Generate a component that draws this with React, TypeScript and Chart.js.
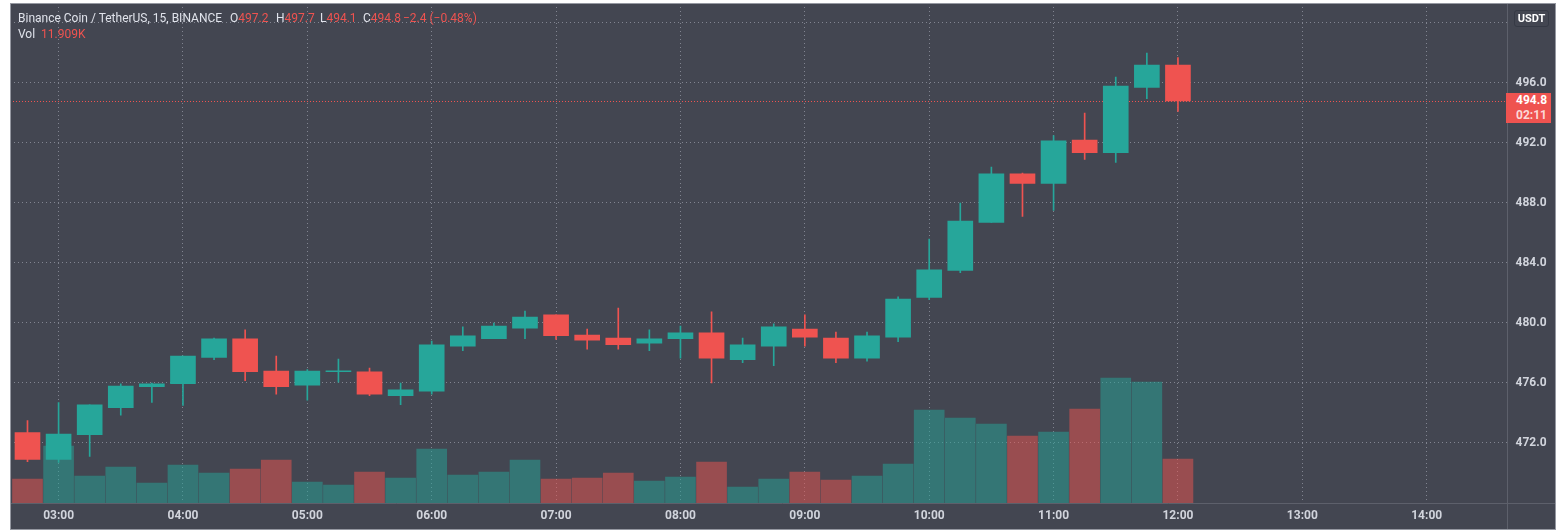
import React, { useEffect, useRef } from "react";
import { Chart, registerables } from "chart.js";

Chart.register(...registerables);

// ---- data (15-minute candles, BNB/USDT) ----
const times = [
  "02:45", "03:00", "03:15", "03:30", "03:45", "04:00", "04:15", "04:30", "04:45",
  "05:00", "05:15", "05:30", "05:45", "06:00", "06:15", "06:30", "06:45",
  "07:00", "07:15", "07:30", "07:45", "08:00", "08:15", "08:30", "08:45",
  "09:00", "09:15", "09:30", "09:45", "10:00", "10:15", "10:30", "10:45",
  "11:00", "11:15", "11:30", "11:45", "12:00",
];
const opens = [
  472.7, 470.9, 472.55, 474.35, 475.75, 475.95, 477.7, 478.95, 476.8,
  475.85, 476.75, 476.75, 475.15, 475.45, 478.45, 478.95, 479.65,
  480.55, 479.2, 479.0, 478.65, 478.95, 479.35, 477.55, 478.45,
  479.6, 479.0, 477.65, 479.05, 481.7, 483.5, 486.7, 489.95,
  489.3, 492.2, 491.35, 495.7, 497.2,
];
const highs = [
  473.5, 474.7, 474.55, 475.95, 476.0, 477.8, 479.0, 479.55, 477.8,
  476.9, 477.6, 477.0, 476.0, 478.8, 479.75, 480.0, 480.8,
  480.55, 479.6, 481.0, 479.55, 479.8, 480.75, 479.0, 479.95,
  480.55, 479.4, 479.4, 481.75, 485.6, 488.0, 490.4, 490.0,
  492.5, 494.0, 496.4, 498.0, 497.7,
];
const lows = [
  470.75, 470.7, 471.1, 473.85, 474.7, 474.5, 477.55, 476.15, 475.25,
  474.85, 476.05, 475.15, 474.55, 475.25, 478.15, 478.95, 478.95,
  478.9, 478.25, 478.25, 478.15, 477.65, 476.0, 477.35, 477.15,
  478.45, 477.35, 477.45, 478.75, 481.55, 483.35, 486.7, 487.1,
  487.5, 490.9, 490.7, 494.95, 494.1,
];
const closes = [
  470.9, 472.6, 474.55, 475.8, 475.95, 477.8, 478.95, 476.75, 475.75,
  476.8, 476.8, 475.25, 475.55, 478.55, 479.15, 479.8, 480.4,
  479.15, 478.85, 478.55, 478.95, 479.35, 477.65, 478.55, 479.75,
  479.05, 477.65, 479.15, 481.6, 483.55, 486.8, 489.95, 489.3,
  492.15, 491.35, 495.8, 497.2, 494.8,
];
// volume in thousands of BNB
const volumes = [
  6.5, 15.43, 7.31, 9.74, 5.41, 10.29, 8.12, 9.2, 11.64,
  5.68, 4.87, 8.39, 6.77, 14.62, 7.58, 8.39, 11.64,
  6.5, 6.77, 8.12, 5.95, 7.04, 11.1, 4.33, 6.5,
  8.39, 6.23, 7.31, 10.56, 25.17, 23.01, 21.38, 18.13,
  19.22, 25.44, 33.83, 32.75, 11.909,
];
const timeTicks = [
  "03:00", "04:00", "05:00", "06:00", "07:00", "08:00", "09:00",
  "10:00", "11:00", "12:00", "13:00", "14:00",
];
const priceTicks = [472, 476, 480, 484, 488, 492, 496, 500];
const lastPrice = 494.8;
const countdown = "02:11";

const UP = "#26a69a";
const DOWN = "#ef5350";
const UP_VOL = "rgba(38,166,154,0.5)";
const DOWN_VOL = "rgba(239,83,80,0.5)";
const BG = "#434651";
const GRID = "rgba(150,153,165,0.75)";
const TEXT = "#d1d4dc";
const FONT = 'Roboto, "Noto Sans", sans-serif';

const toMin = (t: string) => {
  const [h, m] = t.split(":").map(Number);
  return h * 60 + m;
};
const fmtTime = (v: number) => {
  const h = Math.floor(v / 60);
  const m = Math.round(v % 60);
  return String(h).padStart(2, "0") + ":" + String(m).padStart(2, "0");
};

const framePlugin = {
  id: "frame",
  beforeDraw(chart: any) {
    const { ctx, width, height } = chart;
    ctx.save();
    ctx.fillStyle = "#ffffff";
    ctx.fillRect(0, 0, width, height);
    ctx.fillStyle = BG;
    ctx.fillRect(10, 3, 1546, 527);
    ctx.restore();
  },
  beforeDatasetsDraw(chart: any) {
    const { ctx, chartArea, scales } = chart;
    const y = Math.round(scales.y.getPixelForValue(lastPrice)) + 0.5;
    ctx.save();
    ctx.strokeStyle = DOWN;
    ctx.lineWidth = 1;
    ctx.setLineDash([1, 2]);
    ctx.beginPath();
    ctx.moveTo(chartArea.left, y);
    ctx.lineTo(chartArea.right, y);
    ctx.stroke();
    ctx.restore();
  },
  afterDraw(chart: any) {
    const { ctx, chartArea } = chart;
    ctx.save();
    ctx.strokeStyle = "#5d606b";
    ctx.lineWidth = 1;
    ctx.beginPath();
    const xr = Math.round(chartArea.right) + 0.5;
    ctx.moveTo(xr, 3);
    ctx.lineTo(xr, 529);
    const yb = Math.round(chartArea.bottom) + 0.5;
    ctx.moveTo(10, yb);
    ctx.lineTo(1555, yb);
    ctx.stroke();
    ctx.strokeStyle = "#9598a1";
    ctx.strokeRect(10.5, 3.5, 1545, 526);
    ctx.restore();
  },
};

export default function App() {
  const ref = useRef<HTMLCanvasElement | null>(null);

  useEffect(() => {
    if (!ref.current) return;
    const xs = times.map(toMin);
    const isUp = closes.map((c, i) => c >= opens[i]);

    const chart = new Chart(ref.current, {
      type: "bar",
      data: {
        datasets: [
          {
            label: "body",
            data: xs.map((x, i) => ({
              x,
              y: [Math.min(opens[i], closes[i]), Math.max(opens[i], closes[i])],
            })) as any,
            backgroundColor: isUp.map((u) => (u ? UP : DOWN)),
            barThickness: 25,
            minBarLength: 1,
            grouped: false,
            borderWidth: 0,
            yAxisID: "y",
            order: 1,
          },
          {
            label: "wick",
            data: xs.map((x, i) => ({ x, y: [lows[i], highs[i]] })) as any,
            backgroundColor: isUp.map((u) => (u ? UP : DOWN)),
            barThickness: 1,
            grouped: false,
            borderWidth: 0,
            yAxisID: "y",
            order: 2,
          },
          {
            label: "volume",
            data: xs.map((x, i) => ({ x, y: volumes[i] })) as any,
            backgroundColor: isUp.map((u) => (u ? UP_VOL : DOWN_VOL)),
            barThickness: 30,
            grouped: false,
            borderWidth: 0,
            yAxisID: "yVol",
            order: 3,
          },
        ],
      },
      options: {
        animation: false,
        responsive: false,
        devicePixelRatio: 1,
        layout: { padding: { left: 10, top: 3, right: 11, bottom: 2 } },
        plugins: {
          legend: { display: false },
          tooltip: { enabled: false },
        },
        scales: {
          x: {
            type: "linear",
            position: "bottom",
            min: 156.56,
            max: 878.5,
            offset: false,
            afterBuildTicks: (s: any) => {
              s.ticks = timeTicks.map((t) => ({ value: toMin(t) }));
            },
            afterFit: (s: any) => {
              s.height = 26;
              s.paddingLeft = 0;
              s.paddingRight = 0;
            },
            ticks: {
              autoSkip: false,
              maxRotation: 0,
              padding: 6,
              color: TEXT,
              font: { family: FONT, size: 12, weight: "bold" },
              callback: (v: any) => fmtTime(Number(v)),
            },
            grid: {
              color: GRID,
              drawTicks: false,
              offset: false,
            },
            border: { display: false, dash: [1, 3] },
          },
          y: {
            type: "linear",
            position: "right",
            min: 468,
            max: 501.333,
            afterBuildTicks: (s: any) => {
              s.ticks = priceTicks.map((v) => ({ value: v }));
            },
            afterFit: (s: any) => {
              s.width = 48.5;
              s.paddingTop = 0;
              s.paddingBottom = 0;
            },
            ticks: {
              padding: 9,
              color: TEXT,
              font: { family: FONT, size: 12, weight: "bold" },
              callback: (v: any) => (Number(v) >= 500 ? "" : Number(v).toFixed(1)),
            },
            grid: { color: GRID, drawTicks: false },
            border: { display: false, dash: [1, 3] },
          },
          yVol: {
            type: "linear",
            display: false,
            min: 0,
            max: 135.33,
          },
        },
      } as any,
      plugins: [framePlugin],
    });
    return () => chart.destroy();
  }, []);

  const last = closes.length - 1;
  const chg = closes[last] - opens[last];
  const chgPct = (chg / opens[last]) * 100;

  const legendBase: React.CSSProperties = {
    position: "absolute",
    fontFamily: FONT,
    fontSize: 12,
    lineHeight: "14px",
    whiteSpace: "nowrap",
  };

  return (
    <div style={{ position: "fixed", left: 0, top: 0, width: 1566, height: 531, background: "#fff" }}>
      <canvas ref={ref} width={1566} height={531} style={{ width: 1566, height: 531, display: "block" }} />
      <div style={{ ...legendBase, left: 18, top: 10.5, color: "#e0e3eb" }}>Binance Coin / TetherUS, 15, BINANCE</div>
      <div style={{ ...legendBase, left: 230, top: 10.5, color: "#e0e3eb" }}>
        O<span style={{ color: DOWN }}>{opens[last].toFixed(1)}</span>
      </div>
      <div style={{ ...legendBase, left: 276, top: 10.5, color: "#e0e3eb" }}>
        H<span style={{ color: DOWN }}>{highs[last].toFixed(1)}</span>
      </div>
      <div style={{ ...legendBase, left: 320, top: 10.5, color: "#e0e3eb" }}>
        L<span style={{ color: DOWN }}>{lows[last].toFixed(1)}</span>
      </div>
      <div style={{ ...legendBase, left: 363, top: 10.5, color: "#e0e3eb" }}>
        C<span style={{ color: DOWN }}>{closes[last].toFixed(1)}</span>
      </div>
      <div style={{ ...legendBase, left: 403, top: 10.5, color: DOWN }}>
        {"\u2212" + Math.abs(chg).toFixed(1) + " (\u2212" + Math.abs(chgPct).toFixed(2) + "%)"}
      </div>
      <div style={{ ...legendBase, left: 18, top: 26.5, color: "#e0e3eb" }}>Vol</div>
      <div style={{ ...legendBase, left: 41, top: 26.5, color: DOWN }}>{volumes[last].toFixed(3) + "K"}</div>

      <div
        style={{
          position: "absolute",
          left: 1514,
          top: 10,
          width: 35,
          height: 17,
          boxSizing: "border-box",
          border: "1px solid #363a45",
          borderRadius: 3,
          color: "#ffffff",
          fontFamily: FONT,
          fontWeight: "bold",
          fontSize: 11,
          lineHeight: "15px",
          textAlign: "center",
        }}
      >
        USDT
      </div>

      <div
        style={{
          position: "absolute",
          left: 1506,
          top: 93,
          width: 45,
          height: 30,
          background: DOWN,
          fontFamily: FONT,
          fontWeight: "bold",
          fontSize: 12,
          lineHeight: "15px",
          paddingLeft: 10,
          boxSizing: "border-box",
        }}
      >
        <div style={{ color: "#ffffff" }}>{lastPrice.toFixed(1)}</div>
        <div style={{ color: "rgba(255,255,255,0.78)" }}>{countdown}</div>
      </div>
    </div>
  );
}
